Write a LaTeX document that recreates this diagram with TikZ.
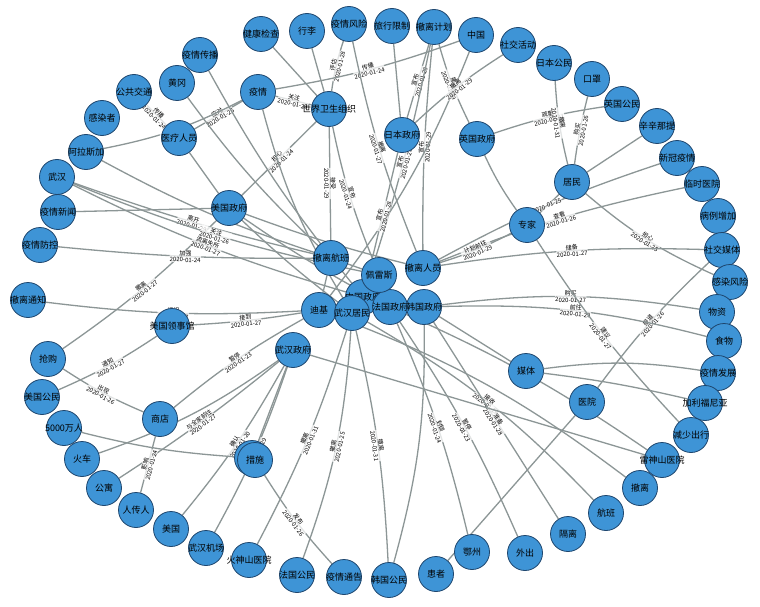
\documentclass[tikz,border=0pt]{standalone}
\usepackage{fontspec}
\setmainfont{Noto Sans CJK SC}
\usetikzlibrary{backgrounds}
\definecolor{nb}{RGB}{62,148,214}
\definecolor{nd}{RGB}{30,70,110}
\definecolor{eg}{RGB}{140,150,150}
\tikzset{
 n/.style={circle,fill=nb,draw=nd,line width=0.8pt,minimum size=35pt,inner sep=0pt},
 nt/.style={font=\fontsize{9}{9}\selectfont,inner sep=0pt},
 ed/.style={draw=eg,line width=1.3pt},
 lab/.style={midway,sloped,font=\fontsize{6}{6.5}\selectfont,align=center,fill=white,fill opacity=0.75,text opacity=1,inner sep=0.3pt}
}
\newcommand{\N}[3]{\node[n,label={[nt]center:#3}] (#1) at (#2) {};}
\newcommand{\ex}[4]{\draw[ed] (#1) to[bend left=#3] node[lab]{#4} (#2);}
\newcommand{\ey}[3]{\draw[ed] (#1) to[bend left=#3] (#2);}
\begin{document}
\begin{tikzpicture}[x=1pt,y=-1pt]
\useasboundingbox (0,0) rectangle (760,607);
% outer ring
\N{jkjc}{261,34}{健康检查}
\N{xl}{307,31}{行李}
\N{yqfx}{349,24}{疫情风险}
\N{lxxz}{392,26}{旅行限制}
\N{clj}{434,27}{撤离计划}
\N{zg}{476,35}{中国}
\N{sjhd}{518,45}{社交活动}
\N{rbgm}{554,63}{日本公民}
\N{kz}{592,79}{口罩}
\N{yggm}{622,104}{英国公民}
\N{xxnt}{657,126}{辛辛那提}
\N{xgyq}{677,158}{新冠疫情}
\N{lsyy}{702,184}{临时医院}
\N{blzj}{718,216}{病例增加}
\N{sjmt}{722,250}{社交媒体}
\N{grfx}{730,282}{感染风险}
\N{wz}{717,312}{物资}
\N{sw}{724,341}{食物}
\N{yqfz}{718,373}{疫情发展}
\N{jlfny}{705,403}{加利福尼亚}
\N{jscx}{691,435}{减少出行}
\N{lssyy}{662,460}{雷神山医院}
\N{cl}{640,488}{撤离}
\N{hb}{606,513}{航班}
\N{gl}{568,534}{隔离}
\N{wc}{525,553}{外出}
\N{ez}{472,552}{鄂州}
\N{hz}{436,574}{患者}
\N{hggm}{389,580}{韩国公民}
\N{yqtg}{344,577}{疫情通告}
\N{fggm}{297,575}{法国公民}
\N{hssyy}{249,560}{火神山医院}
\N{whjc}{206,548}{武汉机场}
\N{mg}{171,529}{美国}
\N{rcr}{136,510}{人传人}
\N{gy}{104,488}{公寓}
\N{hc}{82,459}{火车}
\N{wqw}{64,428}{5000万人}
\N{mggm}{42,397}{美国公民}
\N{qg}{48,359}{抢购}
\N{cltz}{28,300}{撤离通知}
\N{yqfk}{40,245}{疫情防控}
\N{yqxw}{58,212}{疫情新闻}
\N{wh}{57,177}{武汉}
\N{alsj}{86,152}{阿拉斯加}
\N{grz}{102,118}{感染者}
\N{ggjt}{134,92}{公共交通}
\N{hg}{177,83}{黄冈}
\N{yqcb}{200,55}{疫情传播}
% inner
\N{yq}{258,92}{疫情}
\N{who}{329,109}{世界卫生组织}
\N{ylry}{179,138}{医疗人员}
\N{rbzf}{402,135}{日本政府}
\N{ygzf}{477,139}{英国政府}
\N{jm}{572,182}{居民}
\N{zj}{527,225}{专家}
\N{mgzf}{229,208}{美国政府}
\N{clhb}{331,258}{撤离航班}
\N{clry}{423,268}{撤离人员}
\N{zgzf}{363,297}{中国政府}
\N{fgzf}{390,307}{法国政府}
\N{hgzf}{424,307}{韩国政府}
\N{prs}{379,275}{佩雷斯}
\N{dj}{319,310}{迪基}
\N{whjm}{352,313}{武汉居民}
\N{mglsg}{172,326}{美国领事馆}
\N{whzf}{293,350}{武汉政府}
\N{sd}{160,419}{商店}
\N{fs}{252,458}{封锁}
\N{cs}{255,460}{措施}
\N{mt}{526,371}{媒体}
\N{yy}{587,402}{医院}
\begin{scope}[on background layer]
\fill[white] (0,0) rectangle (760,607);
\ey{jkjc}{who}{0}
\ey{xl}{who}{0}
\ex{yqfx}{who}{-5}{评估\\2020-01-28}
\ex{yq}{who}{0}{关注\\2020-01-29}
\ex{yq}{zg}{-5}{传播\\2020-01-24}
\ex{ylry}{yq}{0}{应对\\2020-01-25}
\ex{ggjt}{ylry}{0}{传播\\2020-01-24}
\ex{alsj}{yq}{-8}{治疗\\2020-01-25}
\ex{who}{clhb}{0}{接受\\2020-01-29}
\ex{who}{mgzf}{0}{担心\\2020-01-24}
\ex{who}{prs}{-5}{宣布\\2020-01-24}
\ey{lxxz}{rbzf}{0}
\ex{clj}{rbzf}{0}{宣布\\2020-01-28}
\ex{clj}{clry}{-3}{宣布\\2020-01-29}
\ex{clj}{ygzf}{-5}{撤离\\2020-01-29}
\ex{clj}{zgzf}{3}{宣布\\2020-01-28}
\ex{yqfx}{clry}{-5}{撤离\\2020-01-27}
\ey{zg}{dj}{8}
\ex{rbzf}{sjhd}{5}{撤离\\2020-01-29}
\ex{rbzf}{zgzf}{0}{宣布\\2020-01-28}
\ex{ygzf}{yggm}{5}{疏散\\2020-01-31}
\ex{rbgm}{jm}{-5}{撤离\\2020-01-31}
\ex{kz}{jm}{-3}{购买\\2020-01-26}
\ey{ygzf}{zj}{-5}
\ey{jm}{xxnt}{0}
\ey{zj}{jm}{0}
\ex{jm}{grfx}{-8}{担心\\2020-01-25}
\ex{clry}{xgyq}{5}{2020-01-25}
\ex{clry}{lsyy}{5}{查看\\2020-01-26}
\ex{clry}{sjmt}{5}{储备\\2020-01-27}
\ex{clry}{zj}{-5}{计划前往\\2020-01-29}
\ex{sjmt}{yy}{-5}{报道\\2020-01-26}
\ex{hgzf}{wz}{8}{购买\\2020-01-27}
\ex{hgzf}{sw}{8}{前往\\2020-01-29}
\ey{hgzf}{mt}{0}
\ey{mt}{yqfz}{8}
\ey{mt}{jlfny}{3}
\ex{zj}{jscx}{-5}{建议\\2020-01-27}
\ey{prs}{clhb}{0}
\ey{fgzf}{lssyy}{5}
\ey{dj}{cl}{8}
\ex{whjm}{hb}{8}{接收\\2020-01-26}
\ex{hgzf}{gl}{0}{准备\\2020-01-28}
\ex{fgzf}{wc}{5}{暂停\\2020-01-23}
\ex{fgzf}{ez}{5}{封锁\\2020-01-24}
\ey{yy}{hz}{0}
\ey{hgzf}{hggm}{8}
\ex{whjm}{fggm}{8}{撤离\\2020-01-25}
\ex{cs}{yqtg}{-5}{发布\\2020-01-26}
\ex{whjm}{hssyy}{5}{撤离\\2020-01-31}
\ex{whzf}{whjc}{5}{前往\\2020-01-29}
\ex{whzf}{mg}{5}{确认\\2020-01-20}
\ey{whzf}{hc}{8}
\ex{whzf}{gy}{3}{与全家前往\\2020-01-27}
\ex{dj}{sd}{-5}{暂停\\2020-01-23}
\ex{sd}{rcr}{0}{影响\\2020-01-24}
\ex{sd}{qg}{5}{出现\\2020-01-26}
\ey{wqw}{fs}{-5}
\ey{whzf}{fs}{0}
\ex{mggm}{mglsg}{-5}{通知\\2020-01-27}
\ex{mglsg}{dj}{-3}{接到\\2020-01-27}
\ex{qg}{mgzf}{-5}{撤离\\2020-01-27}
\ex{cltz}{dj}{-5}{组织\\2020-01-27}
\ex{yqfk}{clhb}{-3}{加强\\2020-01-24}
\ey{yqxw}{mgzf}{0}
\ex{wh}{clhb}{-3}{离开\\2020-01-29}
\ex{wh}{prs}{-5}{关注\\2020-01-26}
\ex{wh}{zgzf}{-5}{流离失所\\2020-01-27}
\ey{alsj}{clhb}{-5}
\ey{yqcb}{zgzf}{-5}
\ey{hg}{clhb}{-5}
\ey{yq}{whjm}{-8}
\ey{ylry}{mgzf}{0}
\ey{mgzf}{whjm}{-3}
\ey{mgzf}{clry}{-3}
\ey{mgzf}{fgzf}{-3}
\ex{whjm}{hggm}{5}{撤离\\2020-01-31}
\ey{whzf}{lssyy}{0}
\ey{dj}{clhb}{0}
\end{scope}
\end{tikzpicture}
\end{document}
